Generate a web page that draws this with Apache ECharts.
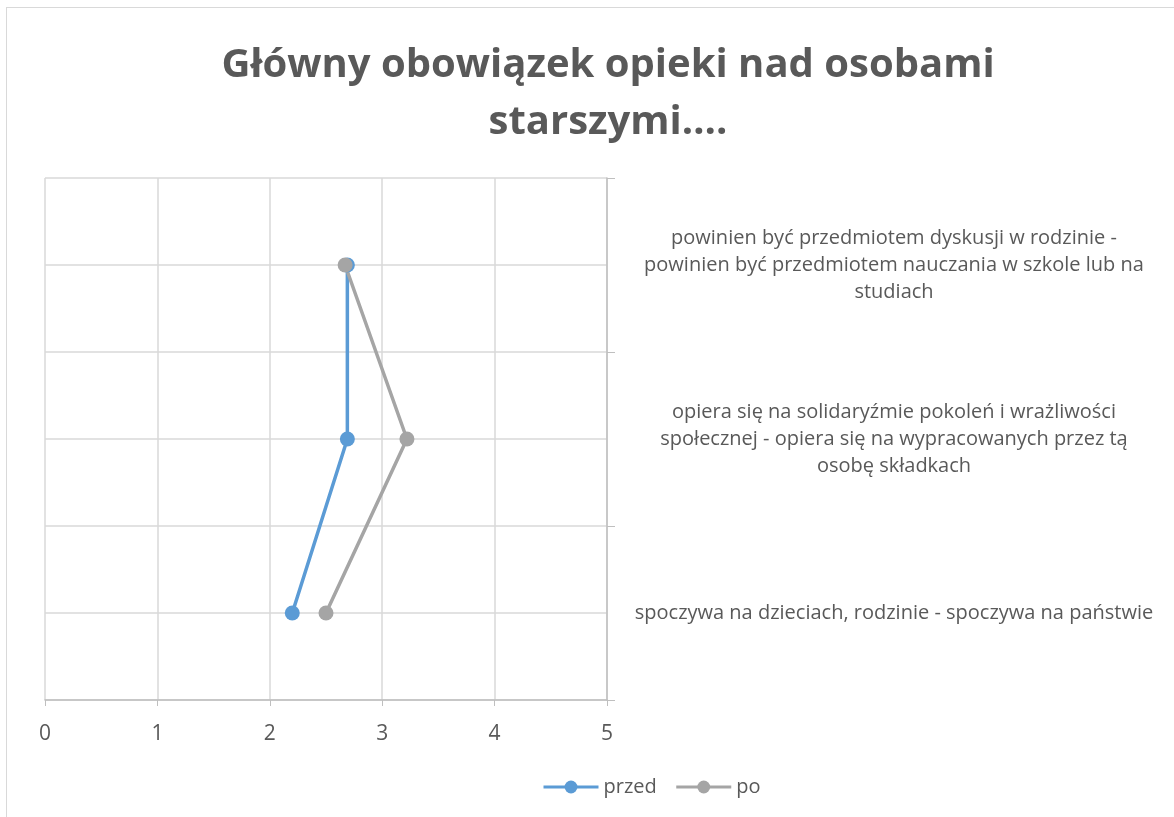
<!DOCTYPE html>
<html>
<head>
<meta charset="utf-8">
<script src="https://cdn.jsdelivr.net/npm/echarts@6/dist/echarts.min.js"></script>
<style>
  html, body { margin: 0; padding: 0; background: #fff; }
  #frame {
    position: absolute; left: 6px; top: 7px;
    width: 1180px; height: 820px;
    border: 1px solid #d9d9d9; box-sizing: border-box;
  }
  #chart { position: absolute; left: 0; top: 0; width: 1174px; height: 817px; }
</style>
</head>
<body>
<div id="frame"></div>
<div id="chart"></div>
<script>
// kategorie od dołu do góry
const categories = [
  'spoczywa na dzieciach, rodzinie - spoczywa na państwie',
  'opiera się na solidaryźmie pokoleń i wrażliwości\nspołecznej - opiera się na wypracowanych przez tą\nosobę składkach',
  'powinien być przedmiotem dyskusji w rodzinie -\npowinien być przedmiotem nauczania w szkole lub na\nstudiach'
];
const przed = [2.2, 2.69, 2.69];
const po = [2.5, 3.22, 2.67];
const xTicks = [0, 1, 2, 3, 4, 5];

const gridColor = '#d9d9d9';
const textColor = '#595959';

let chart = echarts.init(document.getElementById('chart'));

let option = {
  title: {
    text: 'Główny obowiązek opieki nad osobami\nstarszymi….',
    left: 603,
    textAlign: 'center',
    top: 32,
    textStyle: {
      fontFamily: 'Open Sans',
      fontWeight: 'bold',
      fontSize: 40,
      lineHeight: 57,
      color: textColor
    }
  },
  legend: {
    bottom: 15,
    left: 537,
    itemWidth: 55,
    itemHeight: 16,
    itemGap: 18,
    lineStyle: { width: 3 },
    textStyle: { fontFamily: 'Open Sans', fontSize: 20, color: textColor },
    data: ['przed', 'po']
  },
  grid: { left: 45, right: 567, top: 178, bottom: 117, containLabel: false },
  xAxis: {
    type: 'value',
    min: xTicks[0],
    max: xTicks[xTicks.length - 1],
    interval: 1,
    axisLine: { show: true, lineStyle: { color: '#bfbfbf', width: 1.5 } },
    axisTick: { show: true, length: 6, lineStyle: { color: '#bfbfbf' } },
    axisLabel: { fontFamily: 'Open Sans', fontSize: 21, color: textColor, margin: 24 },
    splitLine: { show: true, lineStyle: { color: gridColor, width: 1.5 } }
  },
  yAxis: [
    {
      // tylko linie siatki
      type: 'value',
      min: 0,
      max: 3,
      interval: 0.5,
      axisLine: { show: false },
      axisTick: { show: false },
      axisLabel: { show: false },
      splitLine: { show: true, lineStyle: { color: gridColor, width: 1.5 } }
    },
    {
      type: 'category',
      position: 'right',
      data: categories,
      boundaryGap: true,
      axisLine: { show: true, lineStyle: { color: '#bfbfbf', width: 1.5 } },
      axisTick: { show: true, length: 8, lineStyle: { color: '#bfbfbf' } },
      splitLine: { show: false },
      axisLabel: {
        fontFamily: 'Open Sans',
        fontSize: 20,
        lineHeight: 27,
        color: textColor,
        align: 'center',
        margin: 287
      }
    }
  ],
  series: [
    {
      name: 'przed',
      type: 'line',
      yAxisIndex: 1,
      symbol: 'circle',
      symbolSize: 15,
      color: '#5b9bd5',
      lineStyle: { width: 3.5 },
      data: przed.map((v, i) => [v, categories[i]])
    },
    {
      name: 'po',
      type: 'line',
      yAxisIndex: 1,
      symbol: 'circle',
      symbolSize: 15,
      color: '#a5a5a5',
      lineStyle: { width: 3.5 },
      data: po.map((v, i) => [v, categories[i]])
    }
  ]
};

chart.setOption(option);
</script>
</body>
</html>
